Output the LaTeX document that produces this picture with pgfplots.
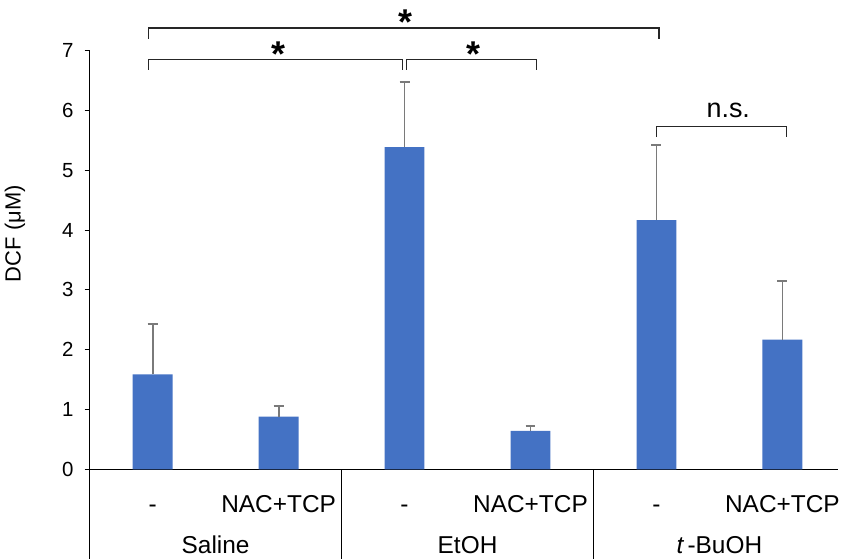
\documentclass[border=0pt]{standalone}
\usepackage{fontspec}
\setmainfont{Liberation Sans}
\usepackage{pgfplots}
\usepackage{pgfplotstable}
\pgfplotsset{compat=1.18}
\definecolor{barblue}{HTML}{4472C4}
\definecolor{errgray}{HTML}{7A7A7A}
\pgfplotstableread{
x y e
0 1.59 0.84
1 0.88 0.18
2 5.39 1.09
3 0.645 0.075
4 4.17 1.25
5 2.17 0.985
}\dcf
\begin{document}
\begin{tikzpicture}
\begin{axis}[
  at={(0pt,0pt)}, anchor=south west,
  x=126.4pt, y=60pt,
  xmin=-0.5, xmax=5.44, ymin=0, ymax=7,
  axis x line=bottom, axis y line=left,
  axis line style={-, black, line width=1.1pt},
  clip=false,
  ybar, bar width=40pt,
  ytick={0,1,...,7},
  xtick={0,...,5},
  xticklabels={-, NAC+TCP, -, NAC+TCP, -, NAC+TCP},
  major x tick style={draw=none},
  ytick style={black, line width=1pt},
  tick align=outside,
  major tick length=5pt,
  /pgf/number format/assume math mode=true,
  yticklabel style={font=\fontsize{20.5}{24}\selectfont, inner sep=0pt, anchor=east, xshift=-11pt},
  xticklabel style={font=\fontsize{24.5}{29}\selectfont, inner sep=0pt, text height=17.5pt, text depth=0pt, anchor=north, yshift=-20.5pt},
  ylabel={DCF (μM)},
  ylabel style={font=\fontsize{22}{26}\selectfont, at={(axis description cs:-0.1,0.563)}, anchor=center},
]
\addplot[fill=barblue, draw=none,
  error bars/.cd, y dir=plus, y explicit,
  error bar style={errgray, line width=1.8pt},
  error mark options={rotate=90, mark size=5pt, errgray, line width=1.8pt}]
  table[x=x, y=y, y error=e] {\dcf};

% group separators
\draw[black, line width=1.1pt] (axis cs:-0.5,0) -- ++(0pt,-95pt);
\draw[black, line width=1.1pt] (axis cs:1.5,0) -- ++(0pt,-95pt);
\draw[black, line width=1.1pt] (axis cs:3.5,0) -- ++(0pt,-95pt);
% group labels
\node[font=\fontsize{24.5}{29}\selectfont, anchor=base, inner sep=0pt] at (axis cs:0.5,0) [yshift=-84.5pt] {Saline};
\node[font=\fontsize{24.5}{29}\selectfont, anchor=base, inner sep=0pt] at (axis cs:2.5,0) [yshift=-84.5pt] {EtOH};
\node[font=\fontsize{24.5}{29}\selectfont, anchor=base, inner sep=0pt] at (axis cs:4.5,0) [yshift=-84.5pt] {{\itshape t}\,-BuOH};

% significance brackets
\draw[black!85, line width=1.2pt] (axis cs:-0.03,7.2) -- (axis cs:-0.03,7.38) -- (axis cs:4.02,7.38) -- (axis cs:4.02,7.2);
\draw[black!85, line width=1.2pt] (axis cs:-0.03,6.68) -- (axis cs:-0.03,6.86) -- (axis cs:1.986,6.86) -- (axis cs:1.986,6.68);
\draw[black!85, line width=1.2pt] (axis cs:2.017,6.68) -- (axis cs:2.017,6.86) -- (axis cs:3.05,6.86) -- (axis cs:3.05,6.68);
\draw[black!85, line width=1.2pt] (axis cs:4.0,5.555) -- (axis cs:4.0,5.74) -- (axis cs:5.03,5.74) -- (axis cs:5.03,5.555);
\node[font=\fontsize{36}{40}\selectfont\bfseries, anchor=north, inner sep=0pt] at (axis cs:2.01,7.695) {*};
\node[font=\fontsize{36}{40}\selectfont\bfseries, anchor=north, inner sep=0pt] at (axis cs:1.0,7.155) {*};
\node[font=\fontsize{36}{40}\selectfont\bfseries, anchor=north, inner sep=0pt] at (axis cs:2.547,7.155) {*};
\node[font=\fontsize{27}{31}\selectfont, anchor=base, inner sep=0pt] at (axis cs:4.57,5.878) {n.s.};
\end{axis}
\pgfresetboundingbox
\useasboundingbox (-90pt,-90pt) rectangle (754pt,471pt);
\end{tikzpicture}
\end{document}
